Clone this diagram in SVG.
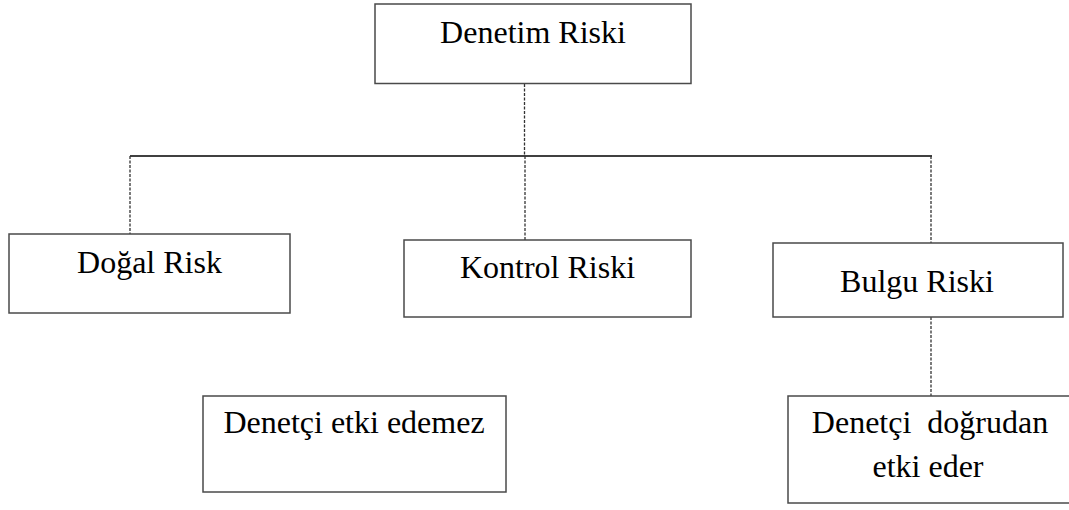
<svg xmlns="http://www.w3.org/2000/svg" width="1069" height="510" viewBox="0 0 1069 510">
<style>
.box{fill:#fff;stroke:#4a4a4a;stroke-width:1.5}
.t{font-family:'Liberation Serif','Times New Roman',Tinos,Times,'DejaVu Serif',serif;font-size:32px;fill:#000;text-anchor:middle}
.solid{stroke:#000;stroke-width:1.5;fill:none}
.dash{stroke:#333;stroke-width:1.3;stroke-dasharray:3,1.5;fill:none}
</style>
<rect width="1069" height="510" fill="#fff"/>
<g id="connectors">
<line class="solid" x1="130" y1="156" x2="932" y2="156"/>
<line class="dash" x1="524.5" y1="84" x2="524.5" y2="156"/>
<line class="dash" x1="130" y1="156" x2="130" y2="234"/>
<line class="dash" x1="525" y1="156" x2="525" y2="240"/>
<line class="dash" x1="931" y1="156" x2="931" y2="243"/>
<line class="dash" x1="931" y1="317" x2="931" y2="396"/>
</g>
<g id="denetim-riski">
<rect class="box" x="375" y="4" width="316" height="79.5"/>
<text class="t" x="533" y="43" font-family="Liberation Serif, serif">Denetim Riski</text>
</g>
<g id="dogal-risk">
<rect class="box" x="9" y="234" width="281" height="79"/>
<text class="t" x="149.5" y="273">Doğal Risk</text>
</g>
<g id="kontrol-riski">
<rect class="box" x="404" y="240" width="287" height="77"/>
<text class="t" x="547.5" y="278">Kontrol Riski</text>
</g>
<g id="bulgu-riski">
<rect class="box" x="773" y="243" width="290" height="74"/>
<text class="t" x="917" y="292">Bulgu Riski</text>
</g>
<g id="denetci-etki-edemez">
<rect class="box" x="203" y="396" width="303" height="96"/>
<text class="t" x="354" y="433">Denetçi etki edemez</text>
</g>
<g id="denetci-dogrudan">
<rect class="box" x="788" y="396" width="290" height="107"/>
<text class="t" x="930" y="433" xml:space="preserve">Denetçi  doğrudan</text>
<text class="t" x="928" y="477">etki eder</text>
</g>
</svg>
